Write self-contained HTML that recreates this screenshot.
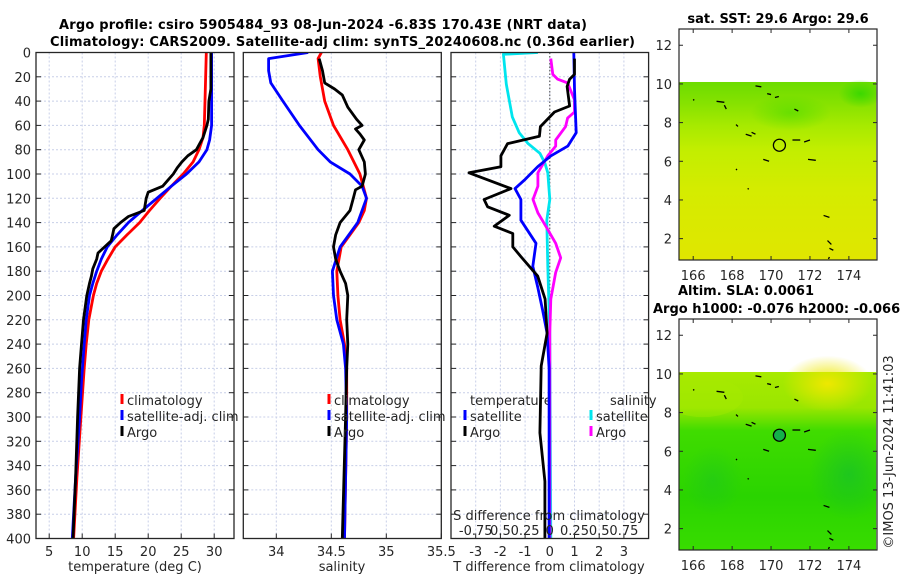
<!DOCTYPE html>
<html><head><meta charset="utf-8"><style>
html,body{margin:0;padding:0;background:#fff;}
svg{display:block;font-family:"DejaVu Sans","Liberation Sans",sans-serif;}
.tk{font-size:13px;fill:#262626;}
.tt{font-size:13px;font-weight:bold;fill:#000;}
</style></head><body>
<svg id="fig" width="900" height="580" viewBox="0 0 900 580" xmlns="http://www.w3.org/2000/svg">
<defs>
<linearGradient id="sstg" x1="0" y1="0" x2="0" y2="1">
<stop offset="0" stop-color="#6cdc00"/><stop offset="0.12" stop-color="#86e200"/><stop offset="0.25" stop-color="#a8ea00"/>
<stop offset="0.38" stop-color="#c2ee00"/><stop offset="0.6" stop-color="#d4ec00"/><stop offset="1" stop-color="#e0e600"/></linearGradient>
<linearGradient id="slag" x1="0" y1="0" x2="0" y2="1">
<stop offset="0" stop-color="#a8ea00"/><stop offset="0.2" stop-color="#9ae600"/><stop offset="0.33" stop-color="#40dc00"/>
<stop offset="0.7" stop-color="#2ad400"/><stop offset="1" stop-color="#38dc00"/></linearGradient>
<radialGradient id="yel"><stop offset="0" stop-color="#eee800"/><stop offset="1" stop-color="#eee800" stop-opacity="0"/></radialGradient>
<radialGradient id="dgr"><stop offset="0" stop-color="#16c02a"/><stop offset="1" stop-color="#16c02a" stop-opacity="0"/></radialGradient>
<radialGradient id="tgr"><stop offset="0" stop-color="#3cd800"/><stop offset="1" stop-color="#3cd800" stop-opacity="0"/></radialGradient>
<clipPath id="c1"><rect x="36" y="52.5" width="198" height="486"/></clipPath>
<clipPath id="c2"><rect x="243.3" y="52.5" width="198" height="486"/></clipPath>
<clipPath id="c3"><rect x="451" y="52.5" width="197.6" height="486"/></clipPath>
<clipPath id="cm1"><rect x="679" y="29" width="198" height="231"/></clipPath>
<clipPath id="cm2"><rect x="679" y="319" width="198" height="231"/></clipPath>
</defs>
<text class="tt" x="59" y="29" textLength="528">Argo profile: csiro 5905484_93 08-Jun-2024 -6.83S 170.43E (NRT data)</text>
<text class="tt" x="50" y="46" textLength="585">Climatology: CARS2009. Satellite-adj clim: synTS_20240608.nc (0.36d earlier)</text>
<g id="layer"></g>
</svg>
<script>
const depthTicks=[0,20,40,60,80,100,120,140,160,180,200,220,240,260,280,300,320,340,360,380,400];
const tempTicks=[5,10,15,20,25,30];
const salTicks=[34,34.5,35,35.5];
const dTTicks=[-3,-2,-1,0,1,2,3];
const dSTicks=[-0.75,-0.5,-0.25,0,0.25,0.5,0.75];
const dSLabels=["-0.75","0.5","0.25","0","0.25","0.5","0.75"];
const tempClim=[[28.8,0],[28.6,40],[28.5,60],[28.3,70],[27.7,80],[26.8,90],[25.3,100],[23.5,110],[21.8,120],[20.2,130],[18.7,140],[16.8,150],[15.0,160],[13.9,170],[12.9,180],[12.2,190],[11.7,200],[11.0,220],[10.6,240],[10.3,260],[9.8,300],[9.2,350],[8.7,400]];
const tempSat=[[29.6,0],[29.6,60],[29.3,72],[28.9,80],[27.7,90],[25.8,100],[23.5,110],[21.3,120],[19.1,130],[17.0,140],[15.3,150],[13.8,160],[12.9,170],[12.2,180],[11.6,190],[11.1,200],[10.6,220],[10.3,240],[9.9,270],[9.6,300],[9.0,350],[8.5,400]];
const tempArgo=[[29.5,0],[29.5,30],[29.2,40],[29.1,55],[28.9,60],[28.3,70],[27.3,80],[26.0,85],[25.1,90],[24.4,95],[23.8,100],[23.0,105],[22.2,110],[20.0,115],[19.7,120],[19.4,130],[17.0,135],[15.8,140],[14.8,145],[14.6,150],[14.4,155],[13.4,160],[12.4,165],[12.2,170],[11.6,178],[11.4,184],[11.1,190],[10.7,200],[10.2,220],[9.9,240],[9.6,260],[9.3,300],[9.0,350],[8.6,400]];
const salClim=[[34.41,0],[34.38,5],[34.40,20],[34.44,40],[34.52,60],[34.65,80],[34.76,100],[34.82,120],[34.80,130],[34.75,140],[34.67,150],[34.59,160],[34.55,180],[34.56,200],[34.58,220],[34.62,240],[34.64,260],[34.64,300],[34.62,400]];
const salSat=[[34.29,0],[33.93,5],[33.93,15],[33.95,25],[34.06,40],[34.21,60],[34.38,80],[34.49,90],[34.67,100],[34.78,110],[34.82,120],[34.74,140],[34.58,160],[34.51,180],[34.52,200],[34.55,220],[34.61,240],[34.63,260],[34.64,300],[34.62,400]];
const salArgo=[[34.39,5],[34.42,15],[34.44,25],[34.53,30],[34.60,35],[34.65,45],[34.73,55],[34.78,60],[34.72,63],[34.76,67],[34.80,72],[34.75,80],[34.80,90],[34.81,100],[34.78,110],[34.72,113],[34.70,120],[34.67,130],[34.58,140],[34.54,150],[34.52,160],[34.54,170],[34.58,180],[34.63,190],[34.65,200],[34.64,220],[34.65,240],[34.64,260],[34.63,300],[34.60,400]];
const dTSat=[[0.97,0],[1.0,30],[1.07,66],[0.73,77],[0.05,85],[-0.49,94],[-1.03,105],[-1.41,112],[-1.17,121],[-1.17,138],[-0.56,157],[-0.69,176],[-0.49,193],[-0.29,212],[-0.11,231],[-0.03,260],[-0.03,400]];
const dTArgo=[[1.0,5],[1.0,18],[0.8,22],[0.7,28],[0.8,44],[0.19,49],[-0.38,61],[-0.42,69],[-1.71,75],[-1.98,85],[-1.98,94],[-3.27,99],[-1.57,112],[-2.66,121],[-2.52,127],[-1.64,134],[-2.25,143],[-1.50,149],[-1.50,160],[-1.17,168],[-0.49,184],[-0.19,203],[-0.11,231],[-0.35,258],[-0.4,313],[-0.2,353],[-0.2,400]];
const dSSat=[[-0.12,0],[-0.47,1.5],[-0.44,26],[-0.38,53],[-0.31,66],[-0.22,75],[-0.10,83],[-0.05,91],[-0.02,99],[0.0,121],[-0.03,138],[-0.02,176],[0.0,231],[0.01,400]];
const dSArgo=[[0.01,5],[0.03,18],[0.08,22],[0.18,25],[0.25,39],[0.25,49],[0.18,54],[0.16,61],[0.06,72],[0.06,77],[-0.02,85],[-0.12,99],[-0.12,110],[-0.17,121],[-0.12,132],[-0.04,143],[0.06,157],[0.11,169],[0.06,181],[0.01,203],[0.0,231],[0.0,400]];
const latTicks=[12,10,8,6,4,2];
const lonTicks=[166,168,170,172,174];
const argoLon=[170.43];
const argoLat=[6.83];

const NS='http://www.w3.org/2000/svg';
const L=document.getElementById('layer');
function mk(tag,attrs,parent){const e=document.createElementNS(NS,tag);for(const k in attrs)e.setAttribute(k,attrs[k]);(parent||L).appendChild(e);return e;}
const yD=d=>52.5+d*1.215;
const x1=t=>36+(t-3)*6.6;
const x2=s=>243.3+(s-33.7)*110;
const x3=t=>451+(t+4)*24.7;
const xS=s=>x3(0)+s*98.8;

function panel(name,left,w,xticks,xf,clip){
  const g=mk('g',{});
  
  
  mk('rect',{x:left,y:52.5,width:w,height:486,fill:'#fff'},g);
  depthTicks.forEach(d=>{mk('line',{x1:left,x2:left+w,y1:yD(d),y2:yD(d),stroke:'#c8cfe8','stroke-width':1,'stroke-dasharray':'2,2'},g);
    mk('line',{x1:left,x2:left+5,y1:yD(d),y2:yD(d),stroke:'#262626'},g);
    mk('line',{x1:left+w-5,x2:left+w,y1:yD(d),y2:yD(d),stroke:'#262626'},g);});
  xticks.forEach(v=>{const x=xf(v);mk('line',{x1:x,x2:x,y1:52.5,y2:538.5,stroke:'#c8cfe8','stroke-dasharray':'2,2'},g);
    mk('line',{x1:x,x2:x,y1:533.5,y2:538.5,stroke:'#262626'},g);
    const t=mk('text',{x:x,y:556,'text-anchor':'middle',class:'tk'},g);t.textContent=String(v);});
  const inner=mk('g',{'clip-path':'url(#'+clip+')'},g);
  return {g,inner};
}
function line(parent,data,xf,color,name){
  const p=mk('polyline',{points:data.map(p=>xf(p[0]).toFixed(1)+','+yD(p[1]).toFixed(1)).join(' '),fill:'none',stroke:color,'stroke-width':2.8,'stroke-linejoin':'round'},parent);
  
  
}
function txt(parent,x,y,s,anchor,cls,name){const t=mk('text',{x:x,y:y,'text-anchor':anchor||'start',class:cls||'tk'},parent);t.textContent=s;
  
  return t;}
function legend(parent,x,y,color,label,name){
  mk('line',{x1:x,x2:x,y1:y-11,y2:y-1,stroke:color,'stroke-width':3},parent);
  txt(parent,x+5,y,label,'start','tk',name);
}
function frame(parent,left,w){mk('rect',{x:left,y:52.5,width:w,height:486,fill:'none',stroke:'#262626','stroke-width':1.3},parent);}

// Panel 1
const P1=panel('temperature-panel',36,198,tempTicks,x1,'c1');
depthTicks.forEach(d=>txt(P1.g,31,yD(d)+5,String(d),'end','tk','depth-tick-label'));
line(P1.inner,tempClim,x1,'#f00','temp-climatology-line');
line(P1.inner,tempSat,x1,'#00f','temp-satellite-adj-line');
line(P1.inner,tempArgo,x1,'#000','temp-argo-line');
frame(P1.g,36,198);
txt(P1.g,135,571,'temperature (deg C)','middle','tk','x-axis-title-temperature');
legend(P1.g,122,405,'#f00','climatology','legend-climatology');
legend(P1.g,122,421,'#00f','satellite-adj. clim','legend-satellite-adj');
legend(P1.g,122,437,'#000','Argo','legend-argo');

// Panel 2
const P2=panel('salinity-panel',243.3,198,salTicks,x2,'c2');
line(P2.inner,salClim,x2,'#f00','sal-climatology-line');
line(P2.inner,salSat,x2,'#00f','sal-satellite-adj-line');
line(P2.inner,salArgo,x2,'#000','sal-argo-line');
frame(P2.g,243.3,198);
txt(P2.g,342,571,'salinity','middle','tk','x-axis-title-salinity');
legend(P2.g,329,405,'#f00','climatology','legend-climatology');
legend(P2.g,329,421,'#00f','satellite-adj. clim','legend-satellite-adj');
legend(P2.g,329,437,'#000','Argo','legend-argo');

// Panel 3
const P3=panel('difference-panel',451,197.6,dTTicks,x3,'c3');
mk('line',{x1:x3(0),x2:x3(0),y1:52.5,y2:538.5,stroke:'#444','stroke-dasharray':'1.5,2'},P3.inner);
txt(P3.g,470,405,'temperature','start','tk','legend-temperature-header');
txt(P3.g,610,405,'salinity','start','tk','legend-salinity-header');
legend(P3.g,465,421,'#00f','satellite','legend-t-satellite');
legend(P3.g,465,437,'#000','Argo','legend-t-argo');
legend(P3.g,591,421,'#00e5ee','satellite','legend-s-satellite');
legend(P3.g,591,437,'#f0f','Argo','legend-s-argo');
const P3L=mk('g',{'clip-path':'url(#c3)'},P3.g);
line(P3L,dSSat,xS,'#00e5ee','sdiff-satellite-line');
line(P3L,dSArgo,xS,'#f0f','sdiff-argo-line');
line(P3L,dTSat,x3,'#00f','tdiff-satellite-line');
line(P3L,dTArgo,x3,'#000','tdiff-argo-line');
txt(P3.g,549,520,'S difference from climatology','middle','tk','s-diff-axis-title');
dSTicks.forEach((v,i)=>txt(P3.g,xS(v),535,dSLabels[i],'middle','tk','s-diff-tick-label'));
frame(P3.g,451,197.6);
txt(P3.g,549,571,'T difference from climatology','middle','tk','x-axis-title-t-diff');

// Maps
const lonX=lon=>679+(lon-165.27)*19.46;
function latY(lat,off){return 29+off+(12.84-lat)*19.34;}
const coast=[[169.2,9.9,169.5,9.85],[169.8,9.5,170.0,9.45],[170.2,9.3,170.4,9.35],[167.2,9.1,167.6,9.05],[167.6,8.9,167.7,8.7],[168.2,7.9,168.3,7.8],[168.7,7.4,169.0,7.3],[169.0,7.5,169.2,7.4],[171.1,7.1,171.5,7.1],[171.7,7.0,172.0,7.1],[171.9,6.1,172.3,6.05],[169.6,6.1,169.9,6.0],[171.2,8.7,171.4,8.6],[172.7,3.2,173.0,3.1],[172.9,1.9,173.1,1.7],[173.0,1.5,173.2,1.4],[166.0,9.2,166.05,9.15],[168.2,5.6,168.25,5.55],[168.8,4.6,168.85,4.55],[172.95,0.95,173.0,1.05]];
function map(off,fillGrad,extra,name,circFill,clip){
  const g=mk('g',{});
  
  
  const inner=mk('g',{'clip-path':'url(#'+clip+')'},g);
  const dx=lonX(165.27),dy=latY(10.1,off),dw=lonX(175.4)-dx,dh=latY(0.9,off)-dy;
  const hm=mk('rect',{x:dx,y:dy,width:dw,height:dh,fill:'url(#'+fillGrad+')'},inner);
  
  
  extra(inner,off);
  coast.forEach(c=>mk('line',{x1:lonX(c[0]),y1:latY(c[1],off),x2:lonX(c[2]),y2:latY(c[3],off),stroke:'#000','stroke-width':1.3},inner));
  argoLon.forEach((lo,i)=>{const c=mk('circle',{cx:lonX(lo),cy:latY(argoLat[i],off),r:6,fill:circFill,stroke:'#000','stroke-width':1.3},inner);
    
    });
  mk('rect',{x:679,y:29+off,width:198,height:231,fill:'none',stroke:'#262626','stroke-width':1.2},g);
  latTicks.forEach(v=>{const y=latY(v,off);mk('line',{x1:679,x2:683,y1:y,y2:y,stroke:'#262626'},g);mk('line',{x1:873,x2:877,y1:y,y2:y,stroke:'#262626'},g);
    txt(g,672,y+5,String(v),'end','tk','lat-tick-label');});
  lonTicks.forEach(v=>{const x=lonX(v);mk('line',{x1:x,x2:x,y1:256+off,y2:260+off,stroke:'#262626'},g);mk('line',{x1:x,x2:x,y1:29+off,y2:33+off,stroke:'#262626'},g);
    txt(g,x,280+off,String(v),'middle','tk','lon-tick-label');});
  return g;
}
const M1=map(0,'sstg',(p,off)=>{
  mk('ellipse',{cx:lonX(174.6),cy:latY(9.5,off),rx:22,ry:14,fill:'url(#tgr)'},p);
  mk('ellipse',{cx:lonX(171),cy:latY(8.5,off),rx:40,ry:18,fill:'url(#tgr)',opacity:0.5},p);
},'sst-map','none','cm1');
txt(M1,778,23,'sat. SST: 29.6 Argo: 29.6','middle','tt','sst-map-title');
const M2=map(290,'slag',(p,off)=>{
  mk('ellipse',{cx:lonX(172.9),cy:latY(9.5,off),rx:45,ry:28,fill:'url(#yel)'},p);
  mk('ellipse',{cx:lonX(174),cy:latY(4.8,off),rx:40,ry:45,fill:'url(#dgr)',opacity:0.7},p);
  mk('ellipse',{cx:lonX(167),cy:latY(4.5,off),rx:30,ry:35,fill:'url(#dgr)',opacity:0.4},p);
  mk('ellipse',{cx:lonX(166.5),cy:latY(8.8,off),rx:40,ry:20,fill:'#a8ea00',opacity:0.35},p);
},'sla-map','#14b04a','cm2');
txt(M2,746,295,'Altim. SLA: 0.0061','middle','tt','sla-map-title-1');
txt(M2,653,313,'Argo h1000: -0.076 h2000: -0.066','start','tt','sla-map-title-2');
const cp=txt(L,0,0,'©IMOS 13-Jun-2024 11:41:03','middle','tk','copyright-stamp');
cp.setAttribute('transform','translate(893,452) rotate(-90)');
</script>
</body></html>
